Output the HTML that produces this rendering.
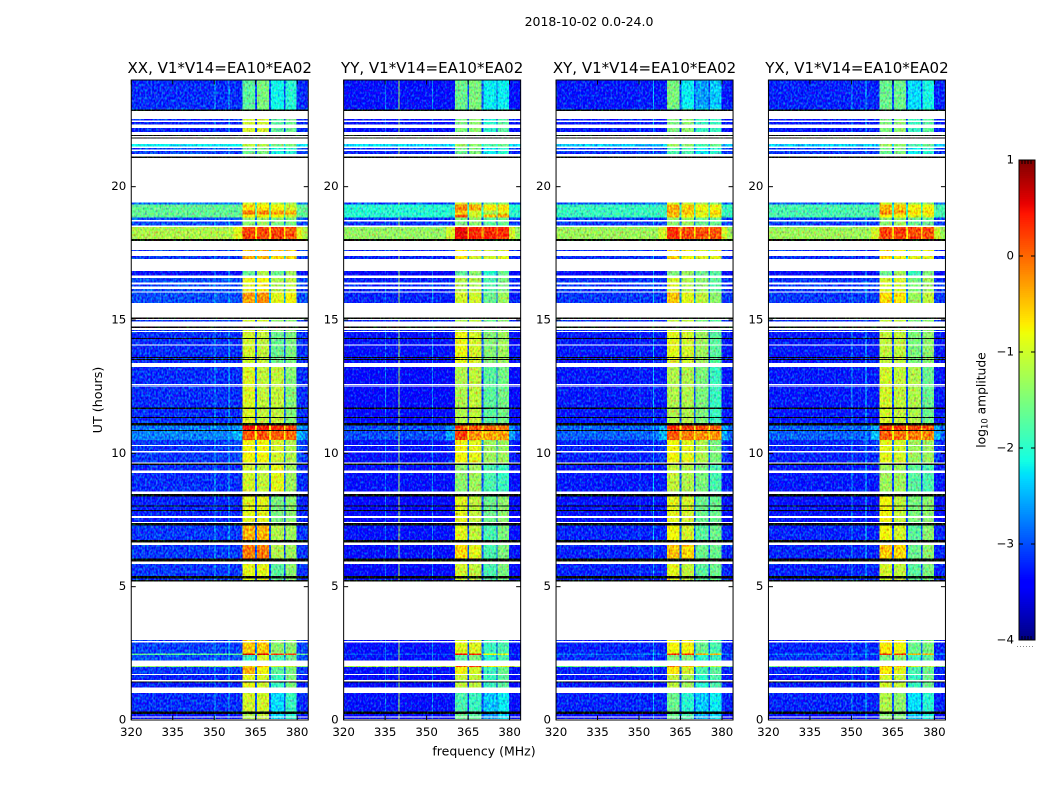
<!DOCTYPE html>
<html>
<head>
<meta charset="utf-8">
<title>2018-10-02 visibility waterfall</title>
<style>
html,body{margin:0;padding:0;background:#fff;}
svg{display:block;}
text{font-family:"DejaVu Sans","Liberation Sans",sans-serif;fill:#000;}
</style>
</head>
<body>
<svg id="figure" xmlns="http://www.w3.org/2000/svg" width="1050" height="800" viewBox="0 0 1050 800">
<defs>
<filter id="grain" x="0" y="0" width="100%" height="100%" color-interpolation-filters="sRGB">
<feTurbulence type="fractalNoise" baseFrequency="0.55 0.38" numOctaves="1" seed="7" result="n"/>
<feColorMatrix in="n" type="matrix" values="0.6 0 0 0 0.2  0 1 0 0 0  0 0 0.5 0 0.25  0 0 0 0 1" result="m"/>
<feComposite in="m" in2="SourceAlpha" operator="in" result="c"/>
<feComposite in="SourceGraphic" in2="c" operator="arithmetic" k1="0" k2="1" k3="1.3" k4="-0.65"/>
</filter>
</defs>
<text x="589" y="26" font-size="12.5" text-anchor="middle">2018-10-02 0.0-24.0</text>
<text x="484" y="755.5" font-size="12.5" text-anchor="middle">frequency (MHz)</text>
<text x="102" y="400" font-size="12.7" text-anchor="middle" transform="rotate(-90 102 400)">UT (hours)</text>
<text x="985.5" y="400" font-size="12.3" text-anchor="middle" transform="rotate(-90 985.5 400)">log<tspan font-size="8.4" dy="2">10</tspan><tspan dy="-2"> amplitude</tspan></text>
<g id="panels"></g>
<g id="colorbar"></g>
</svg>
<script>
// Axis ranges
const freqMin = 320;
const freqMax = 384;
const utMin = 0;
const utMax = 24;
const colorMin = -4;
const colorMax = 1;

// Tick labels
const freqTicks = [320, 335, 350, 365, 380];
const utTicks = [0, 5, 10, 15, 20];
const colorTicks = [-4, -3, -2, -1, 0, 1];

// Panels
const panelTitles = ["XX, V1*V14=EA10*EA02", "YY, V1*V14=EA10*EA02", "XY, V1*V14=EA10*EA02", "YX, V1*V14=EA10*EA02"];

// Frequency columns (MHz)
const subbandStart = [360.2, 365.4, 370.5, 375.7];
const subbandEnd = [364.7, 369.8, 375.2, 379.8];
const nearStart = 357;
const nearEnd = 382;

// Time rows (UT hours); gaps between rows are flagged (white). rowSection points into the level tables.
const rowTop = [24,22.94,22.9,22.54,22.43,22.2,21.94,21.85,21.6,21.45,21.34,21.13,19.41,19.34,19.1,18.95,18.84,18.7,18.48,18.04,17.63,17.4,16.84,16.58,16.34,16.16,16.03,15.1,15.0,14.95,14.75,14.62,14.55,14.33,14.29,14.04,13.62,13.58,13.54,13.5,13.24,12.56,12.5,11.71,11.67,11.36,11.32,11.13,11.04,10.88,10.84,10.5,10.28,10.04,9.62,9.57,9.26,8.48,8.38,8.04,8.0,7.87,7.83,7.57,7.38,7.29,6.75,6.56,6.06,5.85,5.4,5.3,5.25,3,2.91,2.5,2.44,2.02,1.99,1.69,1.44,1.4,1.01,0.31,0.22,0.1];
const rowBottom = [22.94,22.9,22.84,22.49,22.34,22.05,21.9,21.81,21.51,21.4,21.22,21.08,19.34,19.1,18.95,18.84,18.75,18.54,18.04,17.96,17.58,17.29,16.66,16.4,16.25,16.07,15.63,15.04,14.96,14.93,14.7,14.58,14.33,14.29,14.08,13.62,13.58,13.54,13.5,13.38,12.6,12.54,11.71,11.67,11.36,11.32,11.13,11.04,10.88,10.84,10.5,10.32,10.08,9.66,9.57,9.35,8.56,8.38,8.04,8.0,7.88,7.83,7.65,7.43,7.29,6.75,6.65,6.06,5.94,5.4,5.3,5.25,5.19,2.96,2.5,2.44,2.23,1.99,1.72,1.5,1.4,1.21,0.31,0.22,0.13,0.04];
const rowSection = [1,4,0,2,2,2,0,0,3,4,4,0,5,6,7,8,9,9,10,0,11,11,12,13,13,13,14,0,15,15,0,15,16,0,16,16,0,16,0,16,17,17,17,0,17,0,17,0,18,0,19,20,20,20,0,21,21,0,22,0,22,0,22,22,0,23,0,24,0,25,0,25,0,26,26,27,28,29,30,31,0,31,32,0,33,33];

// Level tables (log10 amplitude): [off-band, near-band, sb1, sb2, sb3, sb4, sb gap]; -9 is a black row
const levelsXX = [
[-9,-9,-9,-9,-9,-9,-9],
[-3.15,-3.15,-1.7,-1.5,-2.15,-2.0,-3.0],
[-3.2,-3.2,-1.0,-1.0,-1.7,-1.6,-3.0],
[-2.2,-2.2,-1.1,-1.2,-1.5,-1.5,-2.2],
[-3.05,-3.05,-1.6,-1.5,-2.1,-2.0,-2.9],
[-2.8,-2.8,-1.0,-1.0,-1.2,-1.3,-2.5],
[-1.65,-1.65,-0.6,-0.7,-0.8,-1.0,-1.7],
[-1.65,-1.65,-0.1,-0.1,-0.3,-0.4,-1.5],
[-1.65,-1.65,-0.8,-0.8,-0.8,-1.0,-1.7],
[-3.0,-3.0,-1.4,-1.3,-1.5,-1.5,-2.8],
[-1.2,-0.9,0.2,0.15,0.2,0.1,-0.7],
[-3.1,-3.1,-0.4,-0.4,-0.6,-0.6,-2.4],
[-3.3,-3.3,-1.6,-1.2,-1.6,-1.3,-3.0],
[-3.0,-3.0,-0.9,-0.8,-1.2,-1.1,-2.6],
[-3.0,-3.0,-0.3,-0.2,-0.9,-0.8,-2.5],
[-3.1,-3.1,-1.0,-1.0,-1.4,-1.4,-3.0],
[-3.15,-3.15,-1.0,-1.1,-1.6,-1.5,-3.0],
[-3.15,-3.15,-0.95,-1.1,-1.1,-1.45,-2.9],
[-2.8,-2.6,0.45,0.4,0.3,0.2,-0.8],
[-2.75,-2.5,0.1,0.1,0.05,0.0,-0.8],
[-3.1,-3.0,-0.8,-0.8,-1.0,-1.2,-2.7],
[-3.15,-3.15,-1.0,-1.1,-0.9,-1.3,-2.9],
[-3.2,-3.2,-0.9,-0.9,-1.5,-1.4,-3.0],
[-3.1,-3.1,-0.4,-0.4,-1.2,-1.3,-3.0],
[-3.1,-3.1,-0.1,-0.1,-1.2,-1.3,-3.0],
[-3.1,-3.1,-0.9,-0.9,-1.7,-1.4,-3.0],
[-3.05,-3.05,-0.5,-0.5,-1.4,-1.4,-2.8],
[-1.7,-1.7,0.65,0.6,0.3,0.2,-1.2],
[-3.0,-3.0,-1.9,-1.0,-1.8,-1.6,-2.8],
[-1.4,-1.4,-0.5,-0.6,-1.0,-1.0,-1.5],
[-3.1,-3.1,-0.4,-0.8,-1.7,-1.5,-2.9],
[-3.2,-3.2,-0.9,-1.0,-1.9,-1.5,-3.0],
[-3.15,-3.15,-1.0,-1.0,-2.3,-1.9,-3.0],
[-3.3,-3.3,-1.2,-1.1,-2.3,-2.0,-3.1]
];
const levelsYY = [
[-9,-9,-9,-9,-9,-9,-9],
[-3.3,-3.3,-1.6,-1.5,-2.2,-2.2,-3.0],
[-3.3,-3.3,-1.5,-1.4,-2.0,-1.7,-3.0],
[-2.3,-2.3,-1.3,-1.4,-1.8,-1.6,-2.3],
[-3.2,-3.2,-1.6,-1.5,-2.2,-2.0,-3.0],
[-3.0,-3.0,-1.0,-1.2,-1.5,-1.4,-2.8],
[-2.0,-2.0,-0.15,-0.4,-0.7,-0.7,-1.9],
[-2.0,-2.0,-0.5,-1.0,-1.2,-0.9,-2.0],
[-2.0,-2.0,0.05,-1.0,-0.5,-0.3,-1.9],
[-3.1,-3.1,-1.5,-1.4,-1.7,-1.6,-3.0],
[-1.35,-1.0,0.55,0.35,0.35,0.3,-0.4],
[-3.2,-3.2,-0.7,-1.0,-1.0,-0.9,-2.6],
[-3.4,-3.4,-1.7,-1.4,-2.0,-1.6,-3.1],
[-3.2,-3.2,-1.2,-1.2,-1.8,-1.5,-2.9],
[-3.2,-3.2,-1.0,-1.0,-1.6,-1.3,-2.9],
[-3.2,-3.2,-1.2,-1.1,-1.6,-1.4,-3.0],
[-3.3,-3.3,-0.85,-1.0,-1.45,-1.3,-3.0],
[-3.35,-3.35,-1.2,-1.1,-1.7,-1.55,-3.0],
[-3.0,-2.7,0.1,0.1,0.0,-0.1,-0.8],
[-3.0,-2.6,0.2,-0.2,-0.3,-0.3,-0.8],
[-3.3,-3.2,-0.8,-0.9,-1.3,-1.3,-2.8],
[-3.3,-3.3,-1.4,-1.3,-1.8,-1.9,-3.0],
[-3.4,-3.4,-0.9,-1.1,-1.6,-1.4,-3.1],
[-3.3,-3.3,-0.9,-1.1,-1.8,-1.5,-3.0],
[-3.3,-3.3,-0.6,-0.9,-1.8,-1.5,-3.0],
[-3.35,-3.35,-1.0,-1.1,-1.8,-1.5,-3.0],
[-3.3,-3.3,-0.9,-0.95,-1.9,-1.8,-3.0],
[-3.0,-3.0,0.5,0.45,-0.8,-0.9,-2.0],
[-3.3,-3.3,-1.7,-1.5,-2.0,-1.8,-3.0],
[-1.2,-1.2,0.0,0.0,-0.7,-0.8,-1.2],
[-3.3,-3.3,-0.8,-1.0,-1.9,-1.6,-3.0],
[-3.35,-3.35,-1.1,-1.1,-1.9,-1.7,-3.1],
[-3.3,-3.3,-1.8,-1.9,-2.4,-2.2,-3.1],
[-3.4,-3.4,-1.6,-1.7,-2.6,-2.3,-3.1]
];
const levelsXY = [
[-9,-9,-9,-9,-9,-9,-9],
[-3.25,-3.25,-1.5,-2.2,-2.6,-2.4,-3.0],
[-3.25,-3.25,-1.5,-1.4,-1.9,-1.9,-3.0],
[-2.4,-2.4,-1.3,-1.4,-1.8,-1.6,-2.4],
[-3.1,-3.1,-1.8,-1.8,-2.2,-2.0,-3.0],
[-2.9,-2.9,-1.0,-1.1,-1.3,-1.4,-2.6],
[-1.9,-1.9,-0.4,-0.5,-0.8,-0.8,-1.9],
[-1.9,-1.9,-0.3,-0.5,-0.9,-0.6,-1.8],
[-1.9,-1.9,-0.5,-0.8,-0.9,-0.9,-1.9],
[-3.05,-3.05,-1.4,-1.3,-1.6,-1.6,-2.9],
[-1.3,-1.0,0.3,0.15,0.1,0.1,-0.6],
[-3.15,-3.15,-0.6,-0.8,-0.9,-0.9,-2.5],
[-3.35,-3.35,-1.5,-1.3,-1.6,-1.7,-3.0],
[-3.1,-3.1,-1.0,-1.2,-1.4,-1.7,-2.7],
[-3.1,-3.1,-0.5,-0.9,-1.1,-1.4,-2.7],
[-3.15,-3.15,-1.1,-1.1,-1.5,-1.7,-3.0],
[-3.25,-3.25,-0.9,-1.0,-1.3,-1.7,-3.0],
[-3.25,-3.25,-1.2,-1.2,-1.5,-1.9,-3.0],
[-2.9,-2.6,0.3,0.2,0.1,0.0,-0.8],
[-2.9,-2.5,0.1,-0.1,-0.2,-0.2,-0.8],
[-3.2,-3.1,-0.8,-0.9,-1.2,-1.5,-2.8],
[-3.25,-3.25,-1.1,-1.2,-1.5,-1.8,-3.0],
[-3.3,-3.3,-0.9,-1.0,-1.6,-1.6,-3.0],
[-3.2,-3.2,-0.8,-1.0,-1.7,-1.6,-3.0],
[-3.2,-3.2,-0.5,-0.6,-1.6,-1.6,-3.0],
[-3.2,-3.2,-0.9,-1.1,-1.7,-1.6,-3.0],
[-3.2,-3.2,-0.8,-0.8,-1.6,-1.8,-2.9],
[-2.8,-2.8,0.35,0.3,-0.4,-0.4,-2.0],
[-3.15,-3.15,-1.5,-1.5,-2.0,-1.9,-2.9],
[-1.6,-1.6,-0.2,-0.3,-1.0,-1.1,-1.5],
[-3.2,-3.2,-0.7,-1.0,-1.8,-1.7,-3.0],
[-3.25,-3.25,-1.1,-1.3,-2.0,-1.8,-3.0],
[-3.2,-3.2,-1.6,-2.0,-2.4,-2.2,-3.0],
[-3.35,-3.35,-1.6,-1.8,-2.5,-2.3,-3.1]
];
const levelsYX = [
[-9,-9,-9,-9,-9,-9,-9],
[-3.2,-3.2,-1.6,-1.6,-2.3,-2.1,-3.0],
[-3.25,-3.25,-1.5,-1.4,-1.9,-1.7,-3.0],
[-2.4,-2.4,-1.3,-1.4,-1.8,-1.6,-2.4],
[-3.1,-3.1,-1.6,-1.5,-2.2,-2.0,-3.0],
[-2.9,-2.9,-1.0,-1.1,-1.3,-1.4,-2.6],
[-1.8,-1.8,-0.45,-0.5,-0.8,-0.8,-1.9],
[-1.8,-1.8,-0.2,-0.3,-0.6,-0.6,-1.8],
[-1.8,-1.8,-0.7,-0.8,-0.9,-0.9,-1.9],
[-3.05,-3.05,-1.4,-1.3,-1.6,-1.6,-2.9],
[-1.3,-1.0,0.2,0.2,0.15,0.15,-0.6],
[-3.15,-3.15,-0.6,-0.8,-0.9,-0.9,-2.5],
[-3.35,-3.35,-1.6,-1.3,-1.9,-1.5,-3.0],
[-3.1,-3.1,-1.0,-1.0,-1.5,-1.3,-2.7],
[-3.1,-3.1,-0.6,-0.7,-1.3,-1.1,-2.7],
[-3.15,-3.15,-1.1,-1.1,-1.5,-1.4,-3.0],
[-3.25,-3.25,-1.1,-1.1,-1.5,-1.4,-3.0],
[-3.25,-3.25,-1.0,-1.1,-1.2,-1.6,-3.0],
[-2.9,-2.6,0.3,0.25,0.2,0.1,-0.8],
[-2.9,-2.5,0.05,-0.05,-0.1,-0.15,-0.8],
[-3.2,-3.1,-0.9,-1.0,-1.3,-1.3,-2.8],
[-3.25,-3.25,-1.3,-1.3,-1.7,-1.8,-3.0],
[-3.3,-3.3,-0.8,-1.1,-1.5,-1.4,-3.0],
[-3.2,-3.2,-0.8,-1.0,-1.7,-1.4,-3.0],
[-3.2,-3.2,-0.5,-0.6,-1.6,-1.4,-3.0],
[-3.2,-3.2,-1.0,-1.1,-1.7,-1.5,-3.0],
[-3.2,-3.2,-0.7,-0.8,-1.6,-1.5,-2.9],
[-2.8,-2.8,0.3,0.3,-0.4,-0.4,-1.9],
[-3.15,-3.15,-1.5,-1.4,-1.9,-1.7,-2.9],
[-1.5,-1.5,-0.4,-0.4,-1.0,-1.1,-1.4],
[-3.2,-3.2,-0.7,-0.9,-1.8,-1.6,-3.0],
[-3.25,-3.25,-1.0,-1.1,-1.9,-1.6,-3.0],
[-3.2,-3.2,-1.2,-1.4,-2.3,-2.0,-3.0],
[-3.35,-3.35,-1.4,-1.5,-2.4,-2.1,-3.1]
];

// Narrow interference lines per panel
const lineFreqsXX = [350.1, 355.1];
const lineLevelsXX = [-2.5, -2.4];
const lineFreqsYY = [335.0, 339.9, 352.0];
const lineLevelsYY = [-2.8, -1.2, -2.7];
const lineFreqsXY = [350.1, 355.1];
const lineLevelsXY = [-2.9, -2.5];
const lineFreqsYX = [350.1, 355.1];
const lineLevelsYX = [-2.6, -2.3];

const SVGNS = "http://www.w3.org/2000/svg";
const panelLeft = [131.25, 343.65, 556.05, 768.45];
const panelWidth = 177;
const plotTop = 80;
const plotBottom = 720;
const cbLeft = 1019, cbRight = 1035, cbTop = 160, cbBottom = 640;

function yScale(ut) { return plotBottom - (ut - utMin) / (utMax - utMin) * (plotBottom - plotTop); }
function xScale(left, f) { return left + (f - freqMin) / (freqMax - freqMin) * panelWidth; }
function cbScale(v) { return cbBottom - (v - colorMin) / (colorMax - colorMin) * (cbBottom - cbTop); }

function interp(points, t) {
  for (let i = 1; i < points.length; i++) {
    if (t <= points[i][0]) {
      const a = points[i - 1], b = points[i];
      return a[1] + (b[1] - a[1]) * (t - a[0]) / (b[0] - a[0]);
    }
  }
  return points[points.length - 1][1];
}
const jetR = [[0,0],[0.35,0],[0.66,1],[0.89,1],[1,0.5]];
const jetG = [[0,0],[0.125,0],[0.375,1],[0.64,1],[0.91,0],[1,0]];
const jetB = [[0,0.5],[0.11,1],[0.34,1],[0.65,0],[1,0]];
function colorOf(v) {
  if (v <= -9) return "#000";
  const t = Math.max(0, Math.min(1, (v - colorMin) / (colorMax - colorMin)));
  return "rgb(" + Math.round(interp(jetR, t) * 255) + "," + Math.round(interp(jetG, t) * 255) + "," + Math.round(interp(jetB, t) * 255) + ")";
}

function addCell(parent, x0, x1, y0, y1, v) {
  const r = document.createElementNS(SVGNS, "rect");
  
  
  r.setAttribute("x", x0.toFixed(2));
  r.setAttribute("y", y0.toFixed(2));
  r.setAttribute("width", Math.max(0, x1 - x0).toFixed(2));
  r.setAttribute("height", Math.max(0, y1 - y0).toFixed(2));
  r.setAttribute("fill", colorOf(v));
  r.setAttribute("shape-rendering", "crispEdges");
  parent.appendChild(r);
}
function addLine(parent, x1, y1, x2, y2, name) {
  const l = document.createElementNS(SVGNS, "line");
  
  
  l.setAttribute("x1", x1);
  l.setAttribute("y1", y1);
  l.setAttribute("x2", x2);
  l.setAttribute("y2", y2);
  l.setAttribute("stroke", "#000");
  l.setAttribute("stroke-width", "1");
  parent.appendChild(l);
}
function addText(parent, x, y, str, anchor, size, name) {
  const t = document.createElementNS(SVGNS, "text");
  
  
  t.setAttribute("x", x);
  t.setAttribute("y", y);
  t.setAttribute("text-anchor", anchor);
  t.setAttribute("font-size", size);
  t.textContent = str;
  parent.appendChild(t);
}

function drawPanel(index, levels, lineFreqs, lineLevels) {
  const left = panelLeft[index];
  const right = left + panelWidth;
  const root = document.getElementById("panels");
  const g = document.createElementNS(SVGNS, "g");
  
  
  root.appendChild(g);
  const cells = document.createElementNS(SVGNS, "g");
  
  
  cells.setAttribute("filter", "url(#grain)");
  g.appendChild(cells);
  const X = f => xScale(left, f);
  for (let i = 0; i < rowTop.length; i++) {
    const y0 = yScale(rowTop[i]);
    const y1 = yScale(rowBottom[i]);
    const lv = levels[rowSection[i]];
    if (lv[0] <= -9) {
      addCell(cells, left, right, y0, y1, lv[0]);
      continue;
    }
    addCell(cells, left, X(nearStart), y0, y1, lv[0]);
    addCell(cells, X(nearStart), X(subbandStart[0]), y0, y1, lv[1]);
    for (let s = 0; s < 4; s++) {
      addCell(cells, X(subbandStart[s]), X(subbandEnd[s]), y0, y1, lv[2 + s]);
      if (s < 3) addCell(cells, X(subbandEnd[s]), X(subbandStart[s + 1]), y0, y1, lv[6]);
    }
    addCell(cells, X(subbandEnd[3]), X(nearEnd), y0, y1, lv[1]);
    addCell(cells, X(nearEnd), right, y0, y1, lv[0]);
    if (lv[0] < -2.5) {
      for (let k = 0; k < lineFreqs.length; k++) {
        addCell(cells, X(lineFreqs[k]), X(lineFreqs[k]) + 1, y0, y1, lineLevels[k]);
      }
    }
  }
  const frame = document.createElementNS(SVGNS, "rect");
  
  
  frame.setAttribute("x", left);
  frame.setAttribute("y", plotTop);
  frame.setAttribute("width", panelWidth);
  frame.setAttribute("height", plotBottom - plotTop);
  frame.setAttribute("fill", "none");
  frame.setAttribute("stroke", "#000");
  frame.setAttribute("stroke-width", "1");
  g.appendChild(frame);
  freqTicks.forEach(f => {
    const x = X(f);
    addLine(g, x, plotBottom, x, plotBottom - 4.5, "x-tick");
    addLine(g, x, plotTop, x, plotTop + 4.5, "x-tick");
    addText(g, x, plotBottom + 16, String(f), "middle", 11.8, "x-tick-label");
  });
  utTicks.forEach(u => {
    const y = yScale(u);
    addLine(g, left, y, left + 4.5, y, "y-tick");
    addLine(g, right, y, right - 4.5, y, "y-tick");
    addText(g, left - 5, y + 3.5, String(u), "end", 11.8, "y-tick-label");
  });
  addText(g, left + panelWidth / 2, plotTop - 7, panelTitles[index], "middle", 15, "panel-title");
}

drawPanel(0, levelsXX, lineFreqsXX, lineLevelsXX);
drawPanel(1, levelsYY, lineFreqsYY, lineLevelsYY);
drawPanel(2, levelsXY, lineFreqsXY, lineLevelsXY);
drawPanel(3, levelsYX, lineFreqsYX, lineLevelsYX);

(function drawColorbar() {
  const g = document.getElementById("colorbar");
  const n = 250;
  for (let i = 0; i < n; i++) {
    const v0 = colorMin + (colorMax - colorMin) * i / n;
    const v1 = colorMin + (colorMax - colorMin) * (i + 1) / n;
    addCell(g, cbLeft, cbRight, cbScale(v1), cbScale(v0) + 0.5, (v0 + v1) / 2);
  }
  const frame = document.createElementNS(SVGNS, "rect");
  
  
  frame.setAttribute("x", cbLeft);
  frame.setAttribute("y", cbTop);
  frame.setAttribute("width", cbRight - cbLeft);
  frame.setAttribute("height", cbBottom - cbTop);
  frame.setAttribute("fill", "none");
  frame.setAttribute("stroke", "#000");
  frame.setAttribute("stroke-width", "1");
  g.appendChild(frame);
  colorTicks.forEach(v => {
    const y = cbScale(v);
    addLine(g, cbLeft, y, cbLeft + 4, y, "colorbar-tick");
    addLine(g, cbRight, y, cbRight - 4, y, "colorbar-tick");
    addText(g, cbLeft - 5, y + 3.5, String(v).replace("-", "\u2212"), "end", 11.8, "colorbar-tick-label");
  });
  [1022, 1025, 1028, 1031].forEach(x => {
    addLine(g, x, cbTop, x, cbTop + 4, "colorbar-minor-tick");
    addLine(g, x, cbBottom, x, cbBottom - 4, "colorbar-minor-tick");
  });
  const dots = document.createElementNS(SVGNS, "line");
  
  
  dots.setAttribute("x1", 1017);
  dots.setAttribute("y1", 646.5);
  dots.setAttribute("x2", 1035);
  dots.setAttribute("y2", 646.5);
  dots.setAttribute("stroke", "#888");
  dots.setAttribute("stroke-width", "1");
  dots.setAttribute("stroke-dasharray", "1 2");
  g.appendChild(dots);
})();
</script>
</body>
</html>
